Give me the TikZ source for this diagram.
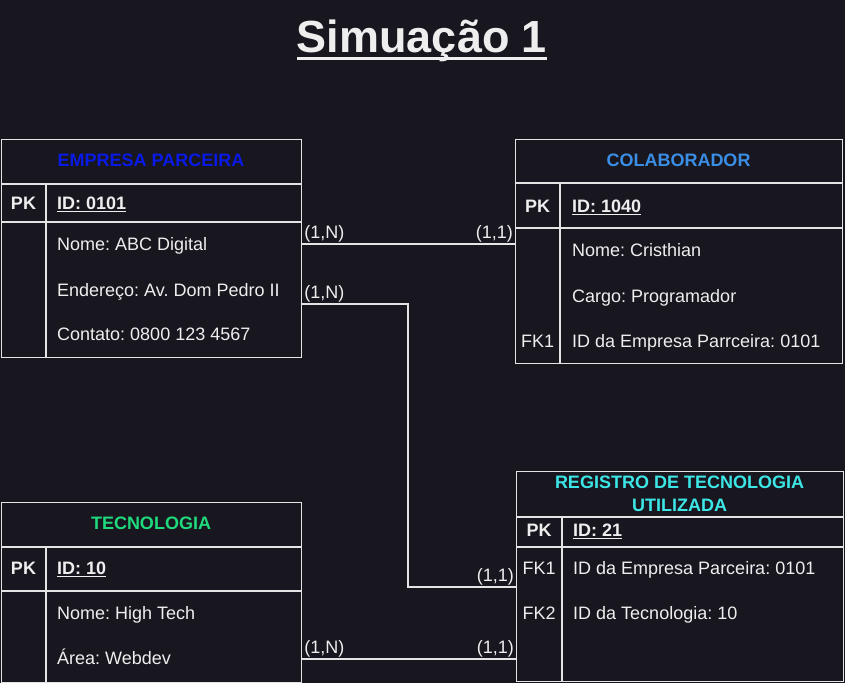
\documentclass[tikz,border=0pt]{standalone}
\usepackage{fontspec}
\setmainfont{Liberation Sans}
\frenchspacing
\definecolor{bg}{HTML}{18161E}
\definecolor{ln}{HTML}{E4E4E4}
\definecolor{tx}{HTML}{EEEEEE}
\definecolor{cblue}{HTML}{0A1AE6}
\definecolor{clight}{HTML}{3A8EE6}
\definecolor{cgreen}{HTML}{1FD97C}
\definecolor{ccyan}{HTML}{3DE6E6}
\newcommand{\ulx}[1]{\underline{#1}}
\tikzset{
  tbl/.style={draw=ln, line width=1.2pt, anchor=north west, inner sep=0pt},
  div/.style={draw=ln, line width=1.2pt},
  cell/.style={text=tx, font=\fontsize{18}{21}\selectfont, anchor=base west, inner sep=0pt},
  key/.style={text=tx, font=\fontsize{18}{21}\selectfont\bfseries, anchor=base, inner sep=0pt},
  keyn/.style={text=tx, font=\fontsize{18}{21}\selectfont, anchor=base, inner sep=0pt},
  pkv/.style={text=tx, font=\fontsize{18}{21}\selectfont\bfseries, anchor=base west, inner sep=0pt},
  hdr/.style={font=\fontsize{18}{23}\selectfont\bfseries, anchor=base, inner sep=0pt, align=center},
  conn/.style={draw=ln, line width=1.2pt},
  card/.style={text=tx, font=\fontsize{18}{21}\selectfont, inner sep=1.5pt},
}
\begin{document}
\begin{tikzpicture}[x=1pt,y=-1pt]
\fill[bg] (0,0) rectangle (845,683);
\useasboundingbox (0,0) rectangle (845,683);

% title
\node[text=tx, font=\fontsize{45}{50}\selectfont\bfseries, anchor=base, inner sep=0pt] (title) at (422,52) {Simuação 1};
\draw[tx, line width=3pt] ([yshift=-6.5pt]title.base west) -- ([yshift=-6.5pt]title.base east);

% EMPRESA PARCEIRA
\node[tbl, minimum width=300pt, minimum height=218pt] (ep) at (1,139) {};
\draw[div] (1,184) -- (301,184);
\draw[div] (1,222) -- (301,222);
\draw[div] (46,184) -- (46,357);
\node[hdr, text=cblue] (eph) at (151,166.5) {EMPRESA PARCEIRA};
\node[key] (eppk) at (23.5,209.5) {PK};
\node[pkv] (epid) at (57,209.5) {\ulx{ID: 0101}};
\node[cell] (epnome) at (57,250.5) {Nome: ABC Digital};
\node[cell] (epend) at (57,296.5) {Endereço: Av. Dom Pedro II};
\node[cell] (epcont) at (57,340.5) {Contato: 0800 123 4567};

% COLABORADOR
\node[tbl, minimum width=327pt, minimum height=224pt] (cb) at (515,139) {};
\draw[div] (515,183) -- (842,183);
\draw[div] (515,228) -- (842,228);
\draw[div] (560,183) -- (560,363);
\node[hdr, text=clight] (cbh) at (678.5,166.5) {COLABORADOR};
\node[key] (cbpk) at (537.5,212.5) {PK};
\node[pkv] (cbid) at (572,212.5) {\ulx{ID: 1040}};
\node[cell] (cbnome) at (572,256.5) {Nome: Cristhian};
\node[cell] (cbcargo) at (572,302.5) {Cargo: Programador};
\node[keyn] (cbfk) at (537.5,347.5) {FK1};
\node[cell] (cbfkv) at (572,347.5) {ID da Empresa Parrceira: 0101};

% TECNOLOGIA
\node[tbl, minimum width=300pt, minimum height=180pt] (tc) at (1,502) {};
\draw[div] (1,547) -- (301,547);
\draw[div] (1,591) -- (301,591);
\draw[div] (46,547) -- (46,682);
\node[hdr, text=cgreen] (tch) at (151,529.5) {TECNOLOGIA};
\node[key] (tcpk) at (23.5,574.5) {PK};
\node[pkv] (tcid) at (57,574.5) {\ulx{ID: 10}};
\node[cell] (tcnome) at (57,619.5) {Nome: High Tech};
\node[cell] (tcarea) at (57,664.5) {Área: Webdev};

% REGISTRO DE TECNOLOGIA UTILIZADA
\node[tbl, minimum width=327pt, minimum height=210pt] (rg) at (516,471) {};
\draw[div] (516,517) -- (843,517);
\draw[div] (516,547) -- (843,547);
\draw[div] (562,517) -- (562,681);
\node[hdr, text=ccyan] (rgh) at (679.5,511.5) {REGISTRO DE TECNOLOGIA\\UTILIZADA};
\node[key] (rgpk) at (539,536.5) {PK};
\node[pkv] (rgid) at (573,536.5) {\ulx{ID: 21}};
\node[keyn] (rgfk1) at (539,574.5) {FK1};
\node[cell] (rgfk1v) at (573,574.5) {ID da Empresa Parceira: 0101};
\node[keyn] (rgfk2) at (539,619.5) {FK2};
\node[cell] (rgfk2v) at (573,619.5) {ID da Tecnologia: 10};

% connectors
\coordinate (c1) at (0,244);
\draw[conn] (ep.east |- c1) -- node[card, at start, anchor=south west] {(1,N)}
  node[card, at end, anchor=south east] {(1,1)} (cb.west |- c1);

\coordinate (c2a) at (0,304);
\coordinate (c2b) at (408,304);
\coordinate (c2c) at (408,587);
\draw[conn] (ep.east |- c2a) -- node[card, at start, anchor=south west] {(1,N)} (c2b)
  -- (c2c) -- node[card, at end, anchor=south east] {(1,1)} (rg.west |- c2c);

\coordinate (c3) at (0,659);
\draw[conn] (tc.east |- c3) -- node[card, at start, anchor=south west] {(1,N)}
  node[card, at end, anchor=south east] {(1,1)} (rg.west |- c3);
\end{tikzpicture}
\end{document}
